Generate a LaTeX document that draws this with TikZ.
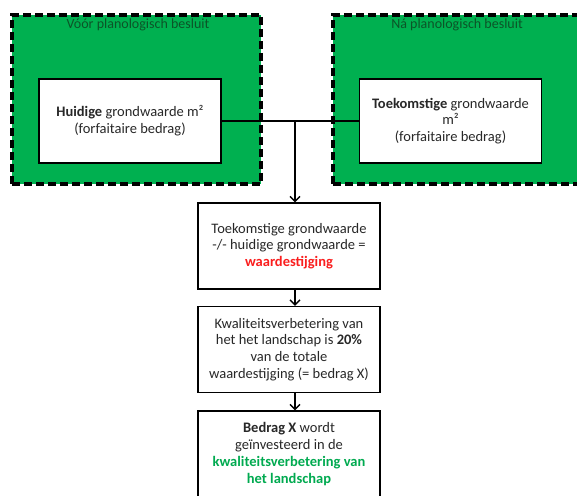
\documentclass[tikz,border=0pt]{standalone}
\usepackage{fontspec}
\setmainfont{Carlito}
\usetikzlibrary{arrows.meta}
\definecolor{vakgroen}{RGB}{0,176,80}
\definecolor{donkergroen}{RGB}{12,84,40}
\definecolor{tekstgrijs}{RGB}{40,40,40}
\definecolor{stijgrood}{RGB}{250,30,30}
\definecolor{lichtgroen}{RGB}{0,170,80}
\tikzset{
  fase/.style={draw=black,fill=vakgroen,line width=3.5pt,dash pattern=on 8pt off 4pt,
    minimum width=249pt,minimum height=169pt,inner sep=0pt},
  faselabel/.style={text=donkergroen,font=\fontsize{14}{16}\selectfont,inner sep=0pt},
  waarde/.style={draw=black,fill=white,line width=1.4pt,minimum width=182pt,
    minimum height=84pt,align=center,text=tekstgrijs,
    font=\fontsize{14.5}{16.8}\selectfont,inner sep=2pt},
  stap/.style={waarde,minimum height=86pt},
  lijn/.style={line width=1.3pt},
  pijl/.style={lijn,-{Straight Barb[length=5pt,width=10pt]}}
}
\begin{document}
\begin{tikzpicture}[x=1pt,y=-1pt]
\useasboundingbox (0,0) rectangle (577,495);
\clip (0,0) rectangle (577,495);

\node[fase] (voor) at (136.5,99.5) {};
\node[fase] (na) at (457.5,99.5) {};
\node[faselabel] (voortitel) at (138,25) {Vóór planologisch besluit};
\node[faselabel] (natitel) at (457,25) {Ná planologisch besluit};

\node[waarde] (huidig) at (130,121) {\textbf{Huidige} grondwaarde m²\\(forfaitaire bedrag)};
\node[waarde] (toekomst) at (450.5,121) {\textbf{Toekomstige} grondwaarde\\m²\\(forfaitaire bedrag)};

\node[stap] (stijging) at (289,246) {Toekomstige grondwaarde\\-/- huidige grondwaarde =\\\textcolor{stijgrood}{\textbf{waardestijging}}};
\node[stap] (aandeel) at (289,349.5) {Kwaliteitsverbetering van\\het het landschap is \textbf{20\%}\\van de totale\\waardestijging (= bedrag X)};
\node[stap] (investering) at (289,454) {\textbf{Bedrag X} wordt\\geïnvesteerd in de\\\textcolor{lichtgroen}{\textbf{kwaliteitsverbetering van}}\\\textcolor{lichtgroen}{\textbf{het landschap}}};

\coordinate (splits) at (295,121);
\draw[lijn] (huidig.east) -- (toekomst.west);
\draw[pijl] (splits) -- (splits |- stijging.north);
\draw[pijl] (stijging.south -| splits) -- (aandeel.north -| splits);
\draw[pijl] (aandeel.south -| splits) -- (investering.north -| splits);

\end{tikzpicture}
\end{document}
